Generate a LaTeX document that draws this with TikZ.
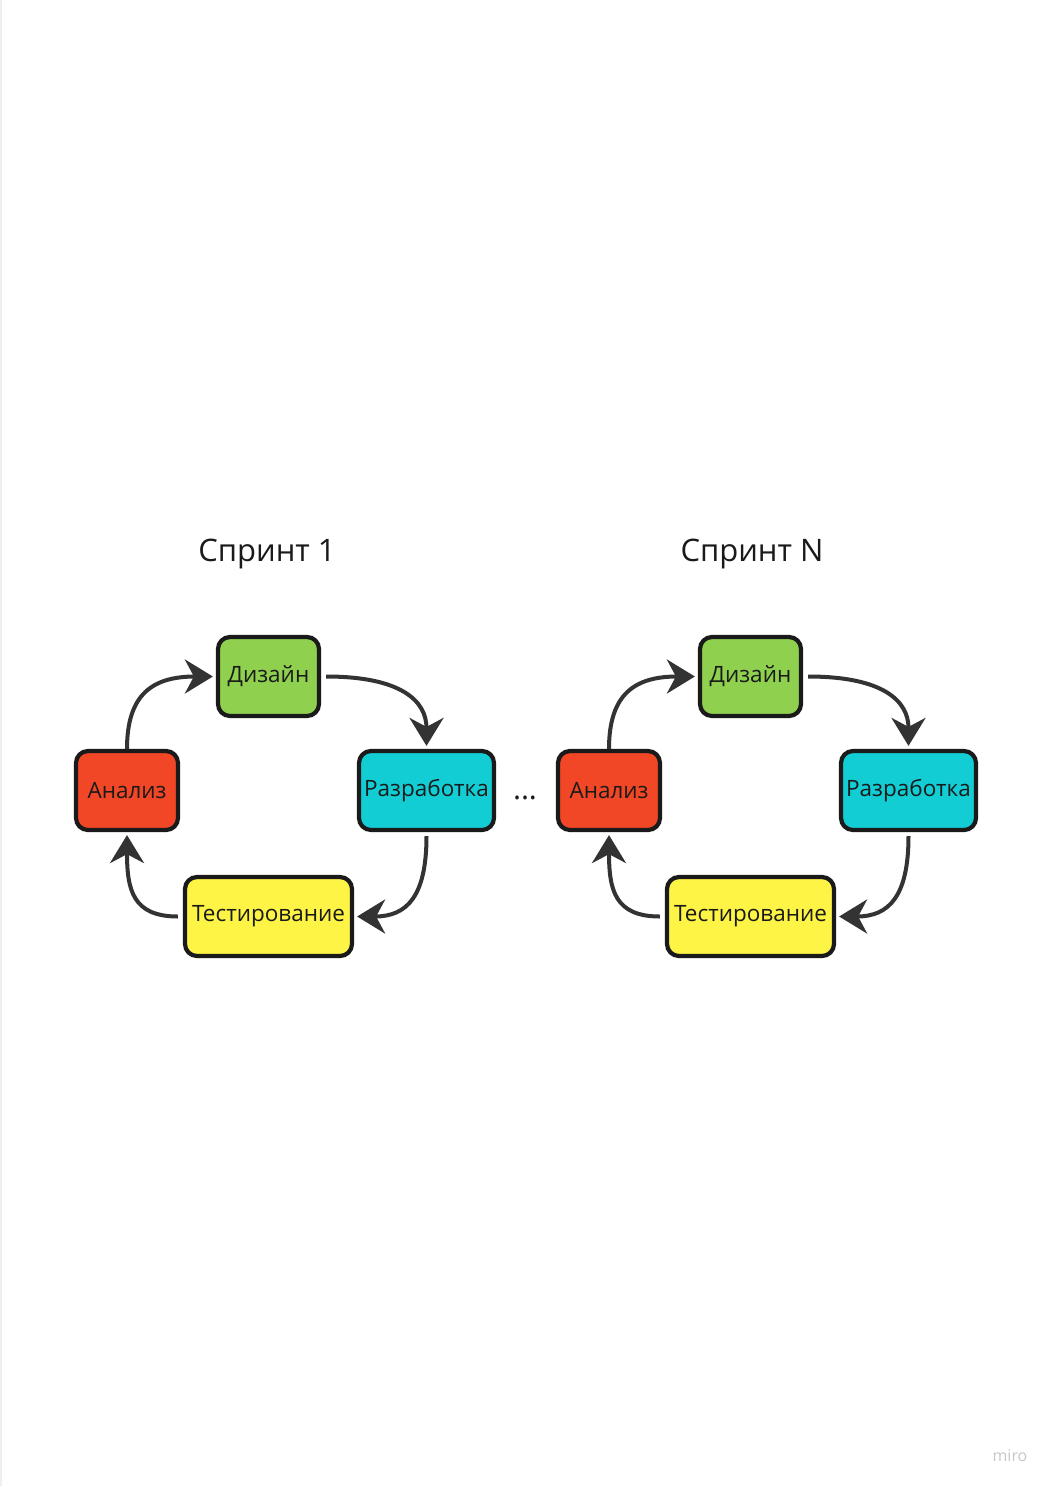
\documentclass[tikz,border=0pt]{standalone}
\usepackage{fontspec}
\setmainfont{Open Sans}
\usetikzlibrary{arrows.meta}
\definecolor{cgreen}{HTML}{8FD14F}
\definecolor{cred}{HTML}{F24726}
\definecolor{ccyan}{HTML}{12CDD4}
\definecolor{cyellow}{HTML}{FEF445}
\definecolor{boxline}{HTML}{1A1A1A}
\definecolor{arrowc}{HTML}{333333}
\definecolor{txt}{HTML}{1A1A1A}
\definecolor{wm}{HTML}{C8C8C8}
\definecolor{edge}{HTML}{EEEEEE}
\begin{document}
\begin{tikzpicture}[x=1pt,y=-1pt,
  box/.style={draw=boxline, line width=4.2pt, rounded corners=12pt, minimum height=79pt, inner sep=0pt, font=\fontsize{22.5}{27}\selectfont, text=txt},
  conn/.style={draw=arrowc, line width=4pt, -{Stealth[length=28pt,width=34pt,inset=9pt]}},
  titletext/.style={font=\fontsize{31}{37}\selectfont, text=txt}]
\useasboundingbox (0,0) rectangle (1051,1486);
\fill[white] (0,0) rectangle (1051,1486);
\draw[edge, line width=1.5pt] (1,0) -- (1,1486);
\foreach \dx/\ttl/\s/\tx in {0/Спринт 1/A/267, 482/Спринт N/B/752}{
  \node[titletext] (t\s) at (\tx,554) {\ttl};
  \node[box, fill=cgreen, minimum width=101pt] (dz\s) at (268.5+\dx,676.5) {Дизайн};
  \node[box, fill=cred, minimum width=102pt] (an\s) at (127+\dx,790.5) {Анализ};
  \node[box, fill=ccyan, minimum width=135pt] (rz\s) at (426.5+\dx,790.5) {Разработка};
  \node[box, fill=cyellow, minimum width=167pt] (ts\s) at (268.5+\dx,916.5) {Тестирование};
  \draw[conn] (an\s.north) .. controls +(0,-55) and +(-60,0) .. ([xshift=-3pt]dz\s.west);
  \draw[conn] ([xshift=5pt]dz\s.east) .. controls +(75,0) and +(0,-45) .. ([yshift=3pt]rz\s.north);
  \draw[conn] ([yshift=-4pt]rz\s.south) .. controls +(0,60) and +(50,0) .. ([xshift=3pt]ts\s.east);
  \draw[conn] ([xshift=-5pt]ts\s.west) .. controls +(-45,0) and +(0,55) .. ([yshift=-3pt]an\s.south);
}
\node[font=\fontsize{30}{34}\selectfont, text=txt] (dots) at (525,798) {...};
\node[font=\fontsize{16}{18}\selectfont, text=wm] (miro) at (1010,1456) {miro};
\end{tikzpicture}
\end{document}
